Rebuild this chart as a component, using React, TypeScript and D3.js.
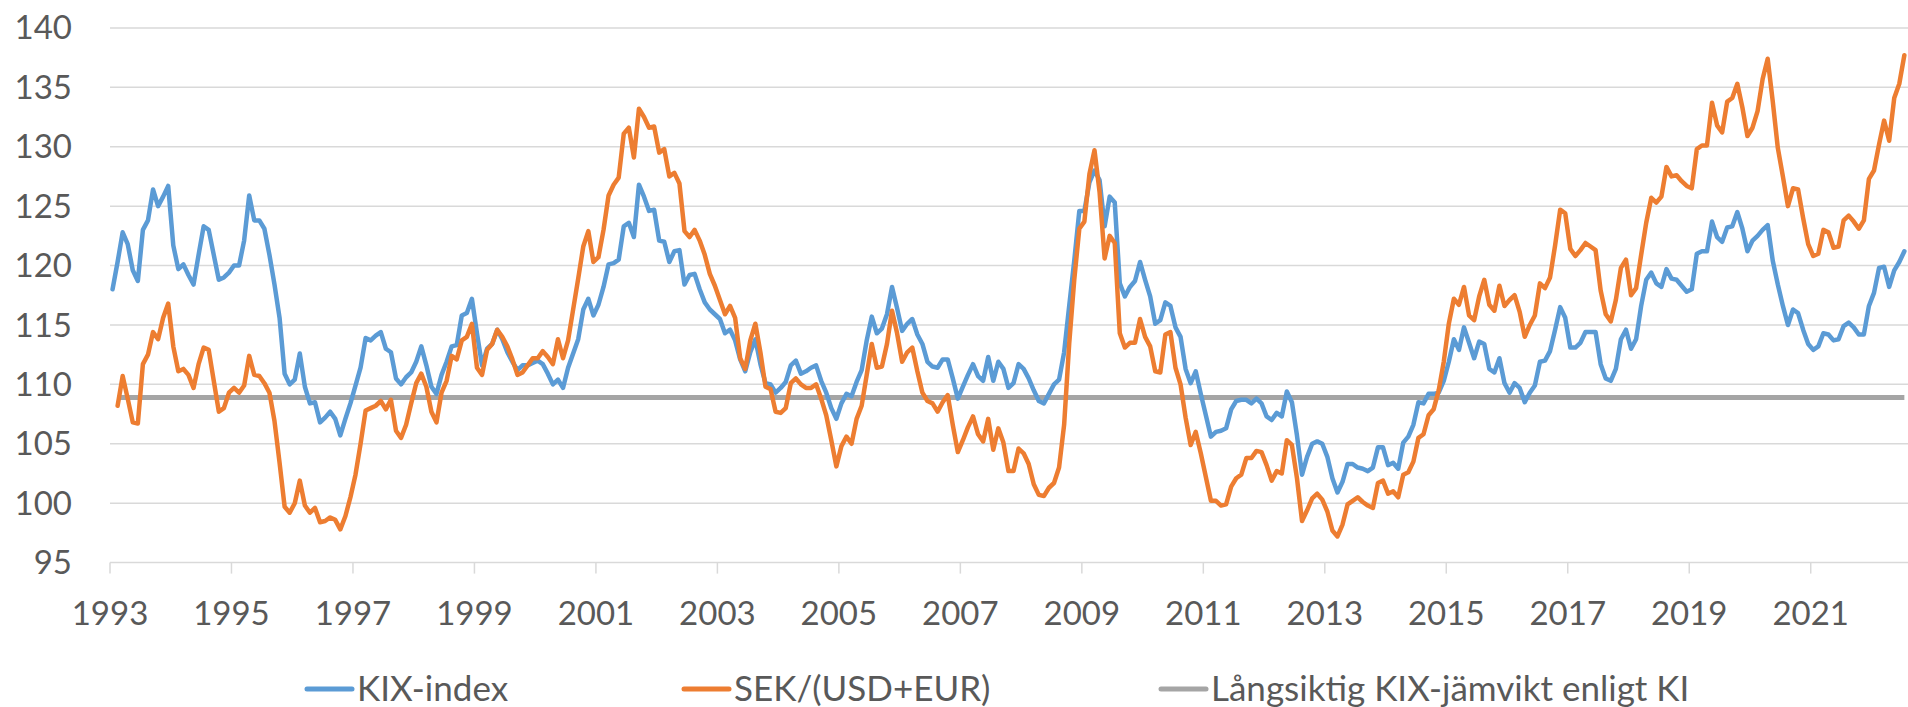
import React from 'react';
import * as d3 from 'd3';

// Monthly KIX-index, Jan 1993 onwards
const kixIndex = [
  118.0, 120.3, 122.8, 121.8, 119.6, 118.7, 123.0, 123.8, 126.4, 125.0, 125.8, 126.7, // 1993
  121.7, 119.7, 120.1, 119.2, 118.4, 120.9, 123.3, 123.0, 120.9, 118.8, 119.0, 119.4, // 1994
  120.0, 120.0, 122.1, 125.9, 123.8, 123.8, 123.1, 120.9, 118.4, 115.6, 110.9, 110.0, // 1995
  110.4, 112.6, 109.8, 108.4, 108.5, 106.8, 107.2, 107.7, 107.1, 105.7, 107.1, 108.4, // 1996
  109.9, 111.4, 113.9, 113.7, 114.1, 114.4, 113.0, 112.7, 110.5, 110.0, 110.6, 111.0, // 1997
  111.9, 113.2, 111.6, 109.8, 109.2, 110.8, 111.9, 113.2, 113.3, 115.8, 116.0, 117.2, // 1998
  114.3, 111.6, 113.0, 113.4, 114.6, 113.8, 112.7, 111.9, 111.2, 111.6, 111.6, 111.8, // 1999
  112.0, 111.7, 110.9, 110.0, 110.4, 109.7, 111.4, 112.6, 113.8, 116.3, 117.2, 115.8, // 2000
  116.7, 118.2, 120.1, 120.2, 120.5, 123.3, 123.6, 122.4, 126.8, 125.8, 124.6, 124.7, // 2001
  122.1, 122.0, 120.3, 121.2, 121.3, 118.4, 119.2, 119.3, 118.0, 116.9, 116.3, 115.9, // 2002
  115.5, 114.3, 114.6, 113.7, 112.1, 111.1, 112.7, 113.8, 111.7, 110.1, 110.0, 109.3, // 2003
  109.7, 110.2, 111.6, 112.0, 110.9, 111.1, 111.4, 111.6, 110.3, 109.3, 108.0, 107.1, // 2004
  108.4, 109.2, 109.0, 110.2, 111.2, 113.7, 115.7, 114.3, 114.7, 115.9, 118.2, 116.4, // 2005
  114.5, 115.1, 115.5, 114.2, 113.4, 111.9, 111.5, 111.4, 112.1, 112.1, 110.5, 108.8, // 2006
  109.8, 110.8, 111.7, 110.7, 110.3, 112.3, 110.3, 111.9, 111.3, 109.7, 110.1, 111.7, // 2007
  111.3, 110.5, 109.5, 108.6, 108.4, 109.2, 110.0, 110.4, 112.7, 116.6, 120.4, 124.6, // 2008
  124.6, 127.0, 128.0, 127.2, 123.3, 125.8, 125.3, 118.5, 117.4, 118.2, 118.7, 120.3, // 2009
  118.8, 117.4, 115.1, 115.4, 116.9, 116.6, 114.8, 114.0, 111.3, 110.1, 111.1, 109.2, // 2010
  107.4, 105.6, 106.0, 106.1, 106.3, 107.9, 108.6, 108.7, 108.7, 108.4, 108.8, 108.4, // 2011
  107.3, 107.0, 107.6, 107.3, 109.4, 108.5, 105.7, 102.4, 103.9, 105.0, 105.2, 105.0, // 2012
  103.9, 102.1, 100.9, 101.8, 103.3, 103.3, 103.0, 102.9, 102.7, 103.0, 104.7, 104.7, // 2013
  103.2, 103.4, 102.9, 105.1, 105.6, 106.6, 108.5, 108.4, 109.2, 109.2, 109.3, 110.3, // 2014
  111.9, 113.8, 112.9, 114.8, 113.5, 112.2, 113.6, 113.4, 111.3, 111.0, 112.2, 110.1, // 2015
  109.3, 110.1, 109.7, 108.5, 109.3, 109.9, 111.9, 112.0, 112.8, 114.6, 116.5, 115.6, // 2016
  113.1, 113.1, 113.5, 114.4, 114.4, 114.4, 111.7, 110.5, 110.3, 111.3, 113.8, 114.6, // 2017
  113.0, 113.8, 116.6, 118.8, 119.4, 118.5, 118.2, 119.7, 118.9, 118.8, 118.3, 117.8, // 2018
  118.0, 121.0, 121.2, 121.2, 123.7, 122.4, 122.0, 123.2, 123.3, 124.5, 123.1, 121.2, // 2019
  122.1, 122.5, 123.0, 123.4, 120.4, 118.4, 116.6, 115.0, 116.3, 116.0, 114.6, 113.4, // 2020
  112.9, 113.2, 114.3, 114.2, 113.7, 113.8, 114.9, 115.2, 114.8, 114.2, 114.2, 116.6, // 2021
  117.7, 119.8, 119.9, 118.2, 119.6, 120.3, 121.2                                     // 2022
];

// Monthly SEK/(USD+EUR), Feb 1993 onwards
const sekUsdEur = [
  108.2, 110.7, 108.8, 106.8, 106.7, 111.7, 112.5, 114.4, 113.8, 115.6, 116.8,        // 1993
  113.2, 111.1, 111.3, 110.8, 109.7, 111.7, 113.1, 112.9, 110.3, 107.7, 108.0, 109.3, // 1994
  109.7, 109.3, 109.9, 112.4, 110.8, 110.7, 110.1, 109.3, 106.9, 103.4, 99.7, 99.2,   // 1995
  100.0, 101.9, 99.8, 99.2, 99.6, 98.4, 98.5, 98.8, 98.6, 97.8, 98.9, 100.5,          // 1996
  102.4, 105.0, 107.8, 108.0, 108.2, 108.6, 107.9, 108.7, 106.1, 105.5, 106.6, 108.4, // 1997
  110.1, 110.9, 109.8, 107.7, 106.8, 109.3, 110.3, 112.4, 112.1, 113.7, 114.0, 115.1, // 1998
  111.4, 110.8, 112.9, 113.4, 114.6, 114.0, 113.2, 112.1, 110.8, 111.0, 111.6, 112.2, // 1999
  112.2, 112.8, 112.3, 111.7, 113.8, 112.2, 113.7, 116.3, 118.9, 121.6, 122.9, 120.3, // 2000
  120.7, 123.0, 125.9, 126.8, 127.4, 131.1, 131.6, 129.1, 133.2, 132.5, 131.6, 131.7, // 2001
  129.5, 129.8, 127.5, 127.8, 126.9, 122.9, 122.4, 123.0, 122.1, 120.9, 119.3, 118.3, // 2002
  117.1, 115.9, 116.6, 115.6, 112.2, 111.3, 113.7, 115.1, 112.7, 109.8, 109.6, 107.7, // 2003
  107.6, 108.0, 110.1, 110.5, 110.0, 109.7, 109.7, 110.0, 108.8, 107.4, 105.3, 103.1, // 2004
  104.8, 105.6, 105.0, 107.1, 108.2, 110.8, 113.4, 111.4, 111.5, 113.4, 116.2, 114.3, // 2005
  111.9, 112.7, 113.1, 111.1, 109.3, 108.6, 108.4, 107.7, 108.5, 109.1, 106.6, 104.3, // 2006
  105.3, 106.4, 107.3, 105.8, 105.2, 107.1, 104.5, 106.3, 105.1, 102.7, 102.7, 104.6, // 2007
  104.2, 103.3, 101.6, 100.7, 100.6, 101.3, 101.7, 103.0, 106.6, 113.4, 118.8, 123.1, // 2008
  123.7, 127.7, 129.7, 126.2, 120.6, 122.5, 121.9, 114.3, 113.1, 113.5, 113.5, 115.5, // 2009
  114.0, 113.2, 111.1, 111.0, 114.2, 114.4, 111.4, 110.0, 107.2, 104.9, 106.0, 104.2, // 2010
  102.2, 100.2, 100.2, 99.8, 99.9, 101.4, 102.1, 102.4, 103.8, 103.8, 104.4, 104.3,   // 2011
  103.2, 101.9, 102.7, 102.5, 105.3, 104.9, 102.1, 98.5, 99.4, 100.4, 100.8, 100.3,   // 2012
  99.3, 97.7, 97.2, 98.2, 99.9, 100.2, 100.5, 100.1, 99.8, 99.6, 101.7, 101.9,        // 2013
  100.8, 101.0, 100.5, 102.4, 102.6, 103.5, 105.5, 105.8, 107.4, 107.9, 109.5, 111.9, // 2014
  115.1, 117.2, 116.7, 118.2, 115.8, 115.4, 117.4, 118.8, 116.7, 116.2, 118.3, 116.6, // 2015
  117.1, 117.5, 116.1, 114.0, 115.0, 115.8, 118.5, 118.1, 119.0, 121.7, 124.7, 124.4, // 2016
  121.4, 120.8, 121.3, 121.9, 121.6, 121.3, 117.9, 115.9, 115.3, 117.1, 119.8, 120.5, // 2017
  117.5, 118.1, 120.9, 123.6, 125.7, 125.3, 125.8, 128.3, 127.5, 127.6, 127.1, 126.7, // 2018
  126.5, 129.8, 130.1, 130.1, 133.7, 131.8, 131.2, 133.8, 134.1, 135.3, 133.3, 130.9, // 2019
  131.6, 133.0, 135.7, 137.4, 133.8, 129.9, 127.5, 125.0, 126.5, 126.4, 124.0, 121.8, // 2020
  120.8, 121.0, 123.0, 122.8, 121.5, 121.6, 123.8, 124.2, 123.7, 123.1, 123.8, 127.3, // 2021
  128.0, 130.2, 132.2, 130.5, 134.1, 135.3, 137.7                                     // 2022
];

// Långsiktig jämvikt enligt KI (constant level)
const equilibrium = 108.9;

const yTicks = [95, 100, 105, 110, 115, 120, 125, 130, 135, 140];
const xTickYears = [1993, 1995, 1997, 1999, 2001, 2003, 2005, 2007, 2009, 2011, 2013, 2015, 2017, 2019, 2021];

const seriesNames = ['KIX-index', 'SEK/(USD+EUR)', 'Långsiktig KIX-jämvikt enligt KI'];
const colors = ['#5B9BD5', '#ED7D31', '#A5A5A5'];

const width = 1908;
const height = 707;
const FONT = 'Lato, "Open Sans", sans-serif';

type Pt = { t: number; v: number };

// month index -> fractional year (mid-month)
const toPoints = (vals: number[], startMonth: number): Pt[] =>
  vals.map((v, i) => ({ t: 1993 + (startMonth + i + 0.5) / 12, v }));

export default function App() {
  const x = d3.scaleLinear().domain([1993, 2023]).range([110, 110 + 30 * 60.74]);
  const y = d3.scaleLinear().domain([95, 140]).range([562.6, 27.9]);

  const line = d3.line<Pt>()
    .x((d) => x(d.t))
    .y((d) => y(d.v));

  const lastMonth = kixIndex.length - 1;
  const eqPoints: Pt[] = [
    { t: 1993 + 1.5 / 12, v: equilibrium },
    { t: 1993 + (lastMonth + 0.5) / 12, v: equilibrium },
  ];

  const series = [
    toPoints(kixIndex, 0),
    toPoints(sekUsdEur, 1),
  ];

  const legendItems = [
    { x: 307, name: seriesNames[0], color: colors[0] },
    { x: 684, name: seriesNames[1], color: colors[1] },
    { x: 1161, name: seriesNames[2], color: colors[2] },
  ];

  return (
    <svg width={width} height={height}
      style={{ position: 'absolute', left: 0, top: 0, background: '#fff' }}
      fontFamily={FONT}>
      {/* gridlines */}
      {yTicks.map((t) => (
        <line key={t} x1={x(1993)} x2={width} y1={y(t)} y2={y(t)}
          stroke="#D9D9D9" strokeWidth={1.5} />
      ))}
      {/* x tick marks */}
      {xTickYears.map((yr) => (
        <line key={yr} x1={x(yr)} x2={x(yr)} y1={y(95)} y2={y(95) + 11}
          stroke="#D9D9D9" strokeWidth={1.5} />
      ))}
      {/* y labels */}
      {yTicks.map((t) => (
        <text key={t} x={72} y={y(t)} dy="0.35em" textAnchor="end"
          fontSize={33} fill="#595959">{t}</text>
      ))}
      {/* x labels */}
      {xTickYears.map((yr) => (
        <text key={yr} x={x(yr)} y={625} textAnchor="middle"
          fontSize={33} fill="#595959">{yr}</text>
      ))}

      <path d={line(eqPoints) || ''} fill="none" stroke={colors[2]} strokeWidth={5} />
      {series.map((s, i) => (
        <path key={i} d={line(s) || ''} fill="none" stroke={colors[i]}
          strokeWidth={4.5} strokeLinejoin="round" strokeLinecap="round" />
      ))}

      {/* legend */}
      {legendItems.map((it) => (
        <g key={it.name}>
          <line x1={it.x} x2={it.x + 45} y1={689} y2={689} stroke={it.color}
            strokeWidth={5} strokeLinecap="round" />
          <text x={it.x + 50} y={689} dy="0.35em" fontSize={35} fill="#595959">{it.name}</text>
        </g>
      ))}
    </svg>
  );
}
